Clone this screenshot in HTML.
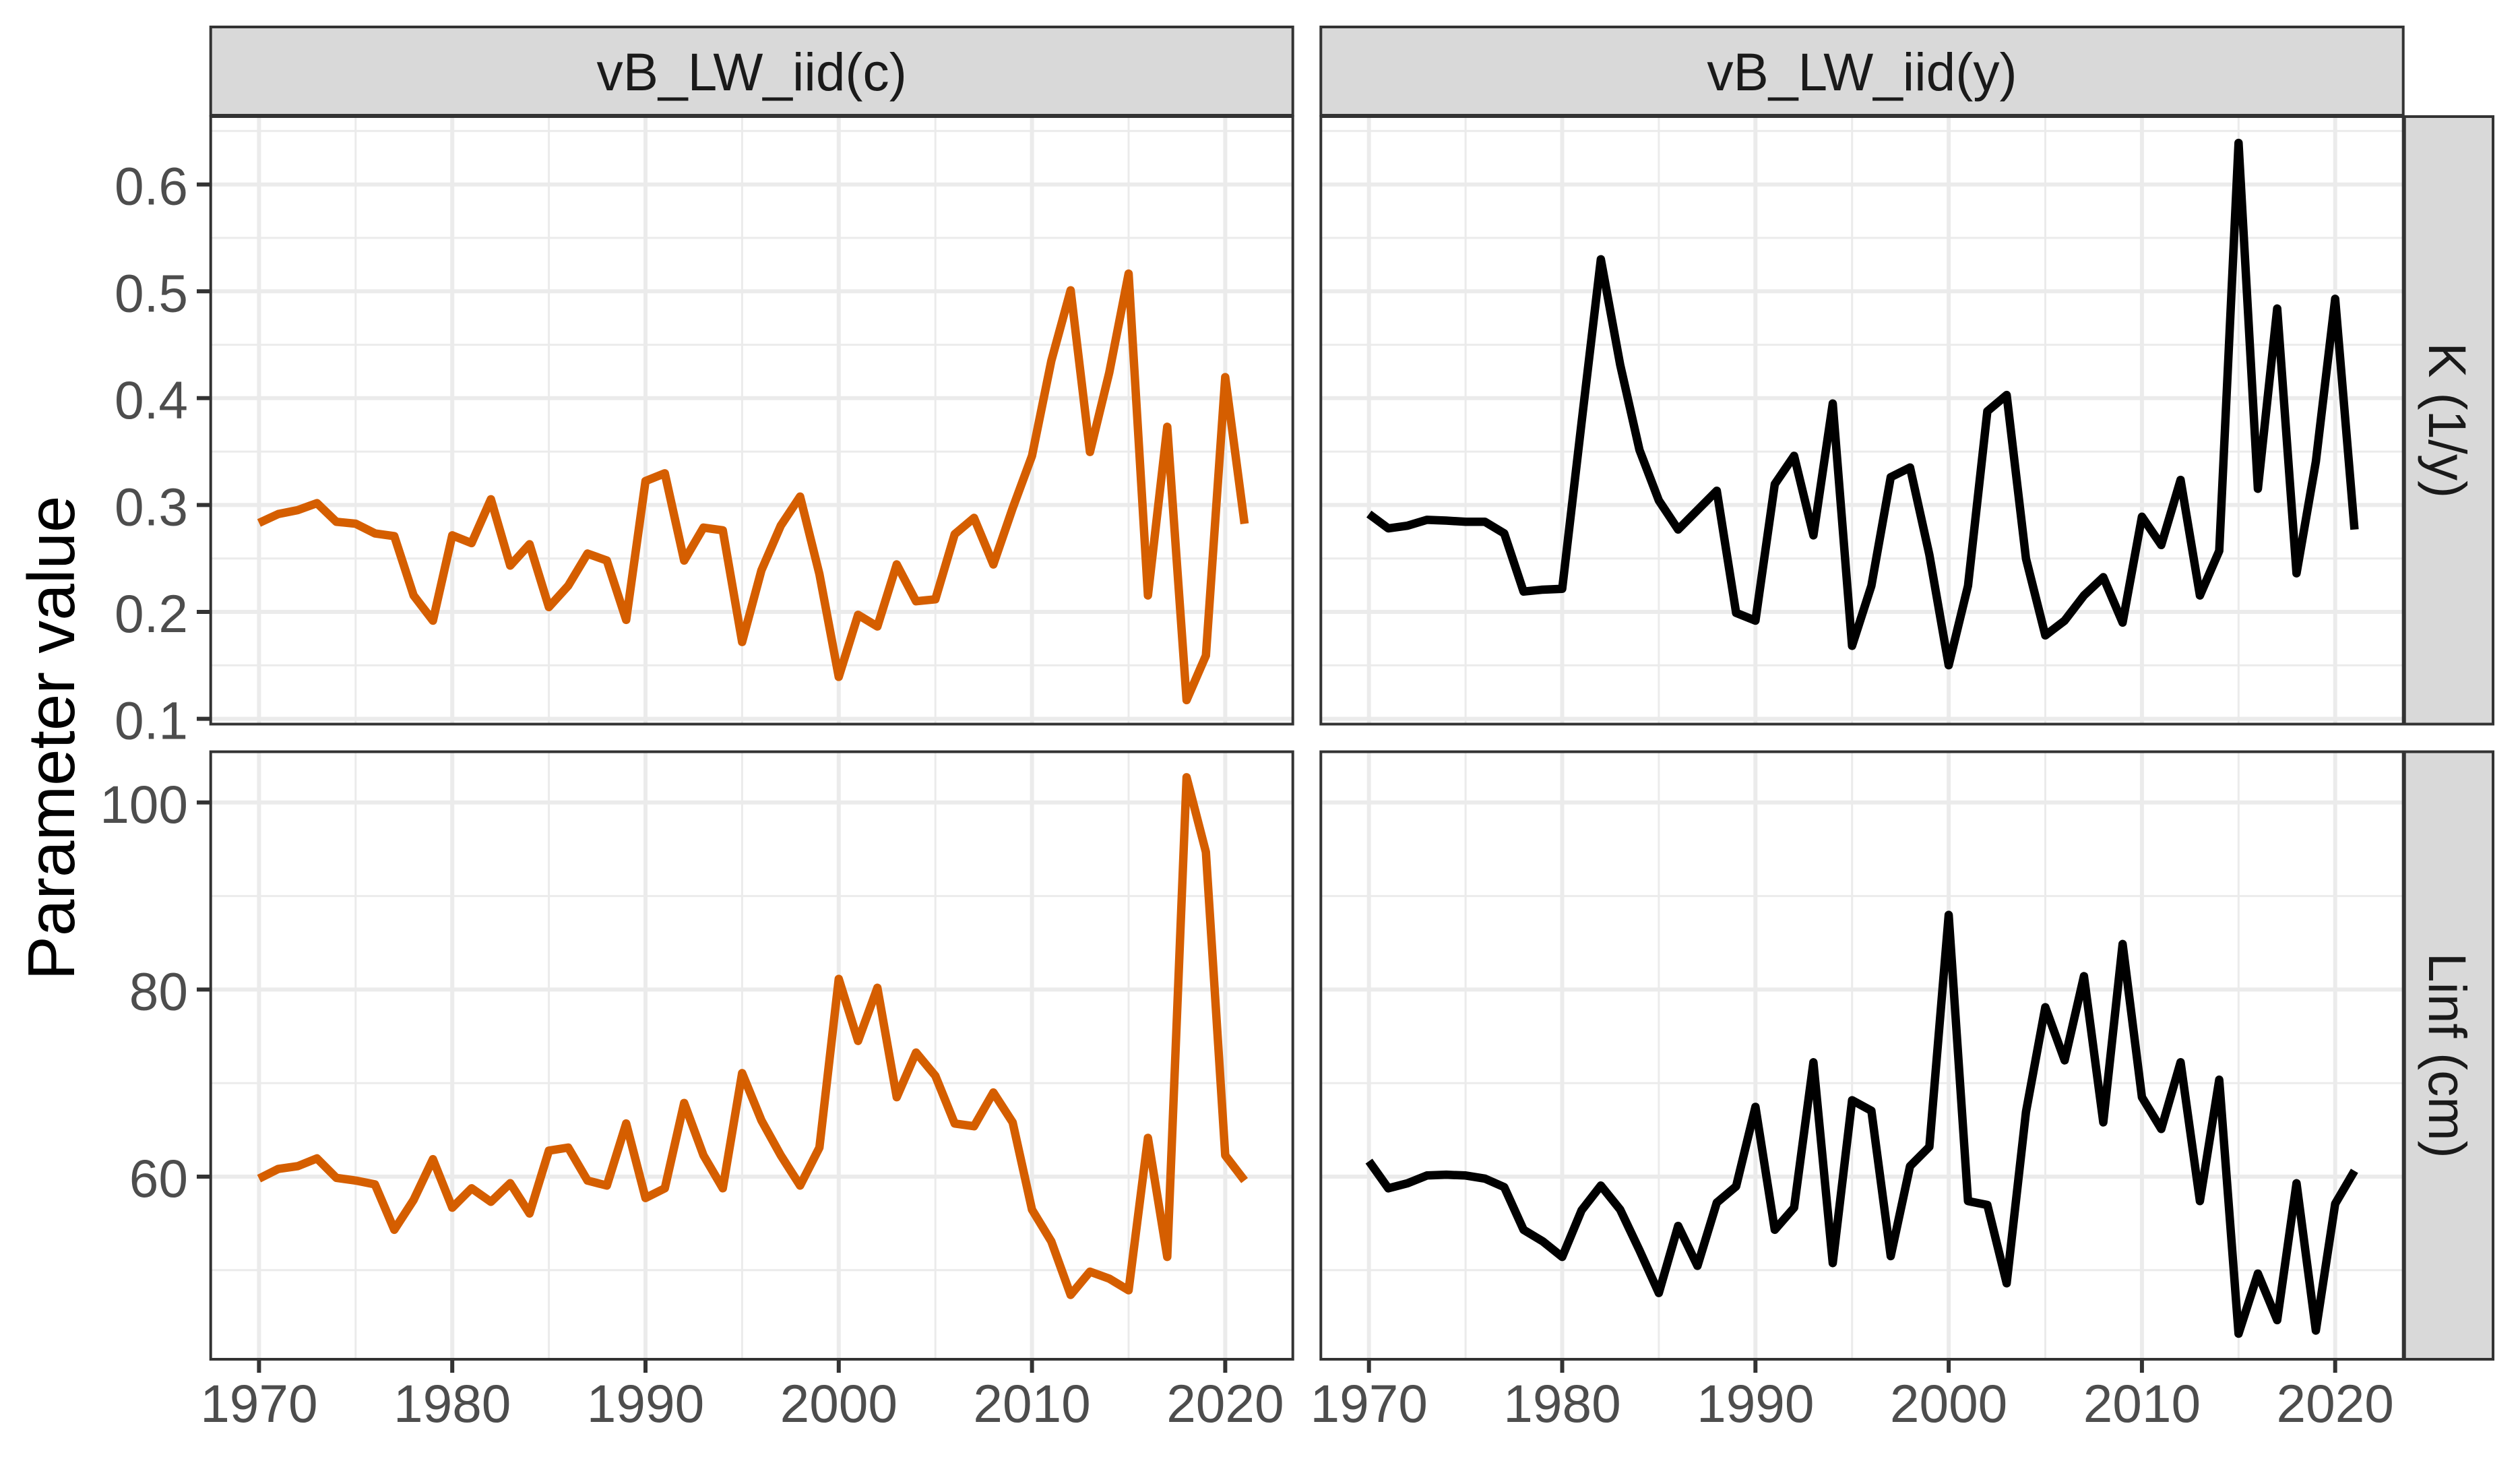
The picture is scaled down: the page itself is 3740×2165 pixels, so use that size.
<!DOCTYPE html>
<html>
<head>
<meta charset="utf-8">
<style>
html,body{margin:0;padding:0;background:#fff;}
svg{display:block;}
text{font-family:"Liberation Sans",Arial,sans-serif;}
</style>
</head>
<body>
<svg width="3740" height="2165" viewBox="0 0 3740 2165" xmlns="http://www.w3.org/2000/svg">
<rect width="3740" height="2165" fill="#fff"/>

<!-- ===== Gridlines ===== -->
<g stroke="#EBEBEB" fill="none">
  <g stroke-width="3">
    <path d="M312.7 194.4H1918.7M312.7 353H1918.7M312.7 511.6H1918.7M312.7 670.1H1918.7M312.7 828.7H1918.7M312.7 987.3H1918.7"/>
    <path d="M527.8 173V1074.5M814.6 173V1074.5M1101.4 173V1074.5M1388.2 173V1074.5M1675 173V1074.5"/>
    <path d="M1960.3 194.4H3566.7M1960.3 353H3566.7M1960.3 511.6H3566.7M1960.3 670.1H3566.7M1960.3 828.7H3566.7M1960.3 987.3H3566.7"/>
    <path d="M2175.1 173V1074.5M2461.9 173V1074.5M2748.7 173V1074.5M3035.5 173V1074.5M3322.3 173V1074.5"/>
    <path d="M312.7 1329.6H1918.7M312.7 1607.2H1918.7M312.7 1884.8H1918.7"/>
    <path d="M527.8 1115.5V2017M814.6 1115.5V2017M1101.4 1115.5V2017M1388.2 1115.5V2017M1675 1115.5V2017"/>
    <path d="M1960.3 1329.6H3566.7M1960.3 1607.2H3566.7M1960.3 1884.8H3566.7"/>
    <path d="M2175.1 1115.5V2017M2461.9 1115.5V2017M2748.7 1115.5V2017M3035.5 1115.5V2017M3322.3 1115.5V2017"/>
  </g>
  <g stroke-width="6">
    <path d="M312.7 273.7H1918.7M312.7 432.3H1918.7M312.7 590.8H1918.7M312.7 749.4H1918.7M312.7 908H1918.7M312.7 1066.6H1918.7"/>
    <path d="M384.4 173V1074.5M671.2 173V1074.5M958 173V1074.5M1244.8 173V1074.5M1531.6 173V1074.5M1818.4 173V1074.5"/>
    <path d="M1960.3 273.7H3566.7M1960.3 432.3H3566.7M1960.3 590.8H3566.7M1960.3 749.4H3566.7M1960.3 908H3566.7M1960.3 1066.6H3566.7"/>
    <path d="M2031.7 173V1074.5M2318.5 173V1074.5M2605.3 173V1074.5M2892.1 173V1074.5M3178.9 173V1074.5M3465.7 173V1074.5"/>
    <path d="M312.7 1190.8H1918.7M312.7 1468.4H1918.7M312.7 1746H1918.7"/>
    <path d="M384.4 1115.5V2017M671.2 1115.5V2017M958 1115.5V2017M1244.8 1115.5V2017M1531.6 1115.5V2017M1818.4 1115.5V2017"/>
    <path d="M1960.3 1190.8H3566.7M1960.3 1468.4H3566.7M1960.3 1746H3566.7"/>
    <path d="M2031.7 1115.5V2017M2318.5 1115.5V2017M2605.3 1115.5V2017M2892.1 1115.5V2017M3178.9 1115.5V2017M3465.7 1115.5V2017"/>
  </g>
</g>

<!-- ===== Data lines ===== -->
<g fill="none" stroke-width="12.5" stroke-linejoin="round" stroke-linecap="butt">
  <polyline vector-effect="non-scaling-stroke" stroke="#D55E00" transform="translate(384.4,173) scale(28.68,0.57537)"
    points="0,1048 1,1025 2,1015 3,997 4,1045 5,1050 6,1075 7,1082 8,1235 9,1300 10,1080 11,1100 12,987 13,1158 14,1103 15,1265 16,1210 17,1127 18,1145 19,1298 20,940 21,920 22,1145 23,1060 24,1067 25,1355 26,1170 27,1055 28,980 29,1180 30,1445 31,1285 32,1315 33,1155 34,1250 35,1245 36,1077 37,1035 38,1155 39,1010 40,875 41,630 42,448 43,865 44,660 45,405 46,1235 47,800 48,1505 49,1390 50,672 51,1050"/>
  <polyline vector-effect="non-scaling-stroke" stroke="#000000" transform="translate(2031.7,173) scale(28.68,0.57537)"
    points="0,1025 1,1062 2,1055 3,1040 4,1042 5,1045 6,1045 7,1075 8,1225 9,1220 10,1218 11,790 12,368 13,640 14,860 15,990 16,1065 17,1015 18,965 19,1280 20,1300 21,948 22,875 23,1080 24,740 25,1365 26,1210 27,930 28,905 29,1130 30,1415 31,1210 32,760 33,718 34,1140 35,1338 36,1300 37,1235 38,1188 39,1305 40,1032 41,1105 42,937 43,1235 44,1120 45,68 46,960 47,495 48,1178 49,890 50,470 51,1065"/>
  <polyline vector-effect="non-scaling-stroke" stroke="#D55E00" transform="translate(384.4,1116) scale(28.68,0.57537)"
    points="0,1100 1,1075 2,1068 3,1048 4,1098 5,1105 6,1115 7,1232 8,1155 9,1050 10,1175 11,1125 12,1160 13,1112 14,1190 15,1028 16,1020 17,1105 18,1118 19,958 20,1150 21,1125 22,905 23,1040 24,1125 25,828 26,950 27,1040 28,1118 29,1020 30,585 31,745 32,608 33,890 34,775 35,835 36,958 37,965 38,878 39,955 40,1180 41,1262 42,1400 43,1340 44,1358 45,1388 46,995 47,1302 48,65 49,258 50,1040 51,1105"/>
  <polyline vector-effect="non-scaling-stroke" stroke="#000000" transform="translate(2031.7,1116) scale(28.68,0.57537)"
    points="0,1055 1,1125 2,1112 3,1092 4,1090 5,1092 6,1100 7,1122 8,1232 9,1262 10,1302 11,1182 12,1118 13,1180 14,1285 15,1395 16,1222 17,1325 18,1162 19,1120 20,915 21,1232 22,1175 23,800 24,1318 25,898 26,925 27,1300 28,1068 29,1018 30,420 31,1158 32,1168 33,1370 34,928 35,658 36,795 37,578 38,955 39,495 40,890 41,972 42,800 43,1158 44,845 45,1500 46,1345 47,1465 48,1112 49,1492 50,1165 51,1080"/>
</g>

<!-- ===== Panel borders ===== -->
<g fill="none" stroke="#333333" stroke-width="4">
  <rect x="312.7" y="173" width="1606" height="901.5"/>
  <rect x="1960.3" y="173" width="1606.4" height="901.5"/>
  <rect x="312.7" y="1115.5" width="1606" height="901.5"/>
  <rect x="1960.3" y="1115.5" width="1606.4" height="901.5"/>
</g>

<!-- ===== Strips ===== -->
<g fill="#D9D9D9" stroke="#333333" stroke-width="4">
  <rect x="312.7" y="40" width="1606" height="131"/>
  <rect x="1960.3" y="40" width="1606.4" height="131"/>
  <rect x="3568.7" y="173" width="131.3" height="901.5"/>
  <rect x="3568.7" y="1115.5" width="131.3" height="901.5"/>
</g>
<g font-size="78.4" fill="#1A1A1A">
  <text x="1115.7" y="134" text-anchor="middle">vB_LW_iid(c)</text>
  <text x="2763.5" y="134" text-anchor="middle">vB_LW_iid(y)</text>
  <text transform="translate(3605,623.8) rotate(90)" text-anchor="middle">K (1/y)</text>
  <text transform="translate(3605,1566.3) rotate(90)" text-anchor="middle">Linf (cm)</text>
</g>

<!-- ===== Ticks ===== -->
<g stroke="#333333" stroke-width="6">
  <path d="M292 273.7H312.7M292 432.3H312.7M292 590.8H312.7M292 749.4H312.7M292 908H312.7M292 1066.6H312.7"/>
  <path d="M292 1190.8H312.7M292 1468.4H312.7M292 1746H312.7"/>
  <path d="M384.4 2017V2037M671.2 2017V2037M958 2017V2037M1244.8 2017V2037M1531.6 2017V2037M1818.4 2017V2037"/>
  <path d="M2031.7 2017V2037M2318.5 2017V2037M2605.3 2017V2037M2892.1 2017V2037M3178.9 2017V2037M3465.7 2017V2037"/>
</g>

<!-- ===== Tick labels ===== -->
<g font-size="78.4" fill="#4D4D4D">
  <g text-anchor="end">
    <text x="279" y="303.7">0.6</text>
    <text x="279" y="462.3">0.5</text>
    <text x="279" y="620.8">0.4</text>
    <text x="279" y="779.4">0.3</text>
    <text x="279" y="938">0.2</text>
    <text x="279" y="1096.6">0.1</text>
    <text x="279" y="1220.8">100</text>
    <text x="279" y="1498.4">80</text>
    <text x="279" y="1776">60</text>
  </g>
  <g text-anchor="middle">
    <text x="384.4" y="2110">1970</text>
    <text x="671.2" y="2110">1980</text>
    <text x="958" y="2110">1990</text>
    <text x="1244.8" y="2110">2000</text>
    <text x="1531.6" y="2110">2010</text>
    <text x="1818.4" y="2110">2020</text>
    <text x="2031.7" y="2110">1970</text>
    <text x="2318.5" y="2110">1980</text>
    <text x="2605.3" y="2110">1990</text>
    <text x="2892.1" y="2110">2000</text>
    <text x="3178.9" y="2110">2010</text>
    <text x="3465.7" y="2110">2020</text>
  </g>
</g>

<!-- ===== Axis title ===== -->
<text transform="translate(110,1095) rotate(-90)" text-anchor="middle" font-size="98" fill="#000">Parameter value</text>
</svg>
</body>
</html>
